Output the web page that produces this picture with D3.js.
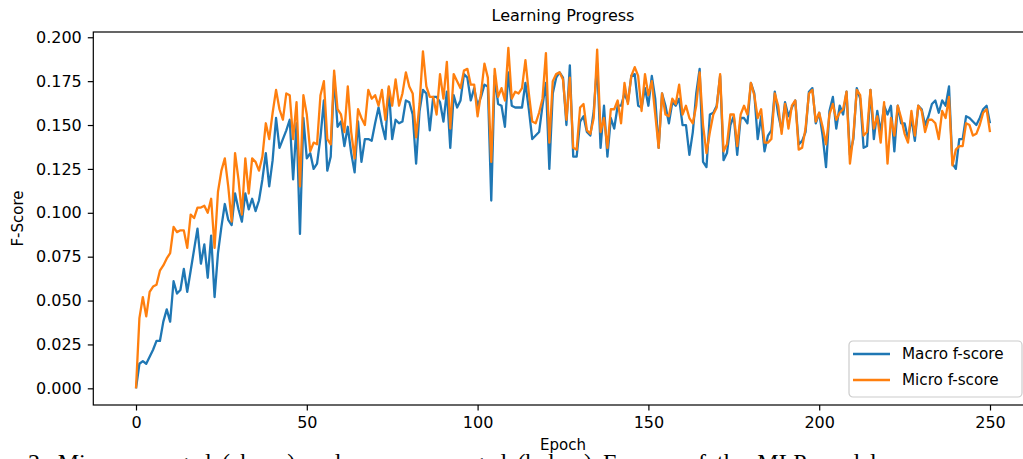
<!DOCTYPE html>
<html>
<head>
<meta charset="utf-8">
<script src="https://cdn.jsdelivr.net/npm/d3@7"></script>
<style>
  body { margin: 0; background: #fff; overflow: hidden; }
  text { font-family: "DejaVu Sans", sans-serif; fill: #000; }
</style>
</head>
<body>
<div id="chart"></div>
<script>
// values, one per epoch (0..250)
const macroF = [
  0, 0.014, 0.0155, 0.014, 0.018, 0.022, 0.027, 0.027, 0.038, 0.045,
  0.038, 0.061, 0.054, 0.056, 0.068, 0.055, 0.067, 0.079, 0.091, 0.071,
  0.082, 0.063, 0.087, 0.052, 0.077, 0.092, 0.105, 0.096, 0.093, 0.111,
  0.102, 0.095, 0.111, 0.102, 0.108, 0.101, 0.107, 0.119, 0.134, 0.115,
  0.130, 0.154, 0.137, 0.142, 0.147, 0.153, 0.119, 0.151, 0.088, 0.154,
  0.131, 0.134, 0.125, 0.128, 0.143, 0.164, 0.124, 0.132, 0.178, 0.149,
  0.152, 0.138, 0.149, 0.134, 0.123, 0.152, 0.129, 0.142, 0.142, 0.141,
  0.151, 0.160, 0.150, 0.142, 0.171, 0.142, 0.153, 0.151, 0.152, 0.164,
  0.163, 0.156, 0.128, 0.158, 0.170, 0.168, 0.147, 0.166, 0.166, 0.163,
  0.152, 0.169, 0.137, 0.167, 0.160, 0.164, 0.179, 0.177, 0.164, 0.171,
  0.161, 0.166, 0.173, 0.172, 0.107, 0.178, 0.162, 0.161, 0.149, 0.180,
  0.161, 0.160, 0.160, 0.160, 0.174, 0.159, 0.142, 0.144, 0.146, 0.161,
  0.174, 0.125, 0.168, 0.177, 0.180, 0.177, 0.150, 0.184, 0.132, 0.132,
  0.152, 0.155, 0.146, 0.144, 0.158, 0.185, 0.137, 0.161, 0.132, 0.154,
  0.148, 0.161, 0.161, 0.168, 0.163, 0.178, 0.179, 0.161, 0.160, 0.171,
  0.161, 0.178, 0.165, 0.137, 0.168, 0.161, 0.151, 0.163, 0.161, 0.165,
  0.150, 0.150, 0.133, 0.146, 0.168, 0.182, 0.129, 0.126, 0.156, 0.157,
  0.161, 0.178, 0.130, 0.134, 0.150, 0.155, 0.133, 0.154, 0.154, 0.151,
  0.174, 0.168, 0.142, 0.155, 0.135, 0.144, 0.147, 0.169, 0.156, 0.147,
  0.163, 0.155, 0.160, 0.164, 0.139, 0.141, 0.146, 0.169, 0.171, 0.151,
  0.157, 0.144, 0.126, 0.158, 0.166, 0.148, 0.161, 0.156, 0.169, 0.133,
  0.142, 0.171, 0.165, 0.137, 0.138, 0.170, 0.142, 0.158, 0.146, 0.161,
  0.156, 0.161, 0.135, 0.161, 0.151, 0.151, 0.142, 0.154, 0.141, 0.161,
  0.159, 0.150, 0.155, 0.162, 0.164, 0.157, 0.164, 0.161, 0.172, 0.128,
  0.125, 0.142, 0.142, 0.155, 0.154, 0.152, 0.150, 0.154, 0.159, 0.161,
  0.151
];

const microF = [
  0, 0.040, 0.052, 0.041, 0.055, 0.058, 0.059, 0.067, 0.070, 0.074,
  0.077, 0.092, 0.089, 0.090, 0.090, 0.080, 0.099, 0.097, 0.103, 0.103,
  0.104, 0.100, 0.108, 0.080, 0.112, 0.124, 0.131, 0.115, 0.095, 0.134,
  0.119, 0.099, 0.131, 0.111, 0.131, 0.129, 0.124, 0.132, 0.151, 0.142,
  0.157, 0.170, 0.159, 0.153, 0.168, 0.167, 0.142, 0.163, 0.115, 0.167,
  0.156, 0.135, 0.140, 0.139, 0.167, 0.175, 0.142, 0.139, 0.181, 0.159,
  0.156, 0.146, 0.172, 0.146, 0.131, 0.159, 0.154, 0.150, 0.170, 0.165,
  0.167, 0.161, 0.170, 0.153, 0.172, 0.161, 0.176, 0.161, 0.168, 0.180,
  0.172, 0.168, 0.143, 0.162, 0.192, 0.172, 0.166, 0.166, 0.156, 0.179,
  0.165, 0.186, 0.148, 0.179, 0.175, 0.171, 0.181, 0.182, 0.173, 0.173,
  0.155, 0.168, 0.185, 0.177, 0.129, 0.182, 0.166, 0.171, 0.164, 0.194,
  0.165, 0.169, 0.168, 0.171, 0.187, 0.168, 0.152, 0.151, 0.157, 0.165,
  0.191, 0.140, 0.175, 0.179, 0.180, 0.176, 0.153, 0.177, 0.137, 0.136,
  0.160, 0.162, 0.147, 0.145, 0.154, 0.193, 0.146, 0.154, 0.137, 0.159,
  0.159, 0.164, 0.151, 0.174, 0.162, 0.178, 0.183, 0.178, 0.158, 0.179,
  0.167, 0.175, 0.156, 0.137, 0.168, 0.156, 0.155, 0.165, 0.162, 0.173,
  0.156, 0.161, 0.154, 0.151, 0.161, 0.180, 0.150, 0.134, 0.146, 0.156,
  0.160, 0.179, 0.135, 0.139, 0.156, 0.156, 0.138, 0.156, 0.161, 0.156,
  0.174, 0.167, 0.154, 0.159, 0.140, 0.140, 0.142, 0.168, 0.161, 0.145,
  0.162, 0.148, 0.161, 0.164, 0.136, 0.137, 0.148, 0.168, 0.170, 0.152,
  0.157, 0.149, 0.139, 0.156, 0.162, 0.153, 0.157, 0.159, 0.169, 0.128,
  0.144, 0.170, 0.167, 0.144, 0.146, 0.170, 0.148, 0.155, 0.140, 0.163,
  0.128, 0.154, 0.144, 0.161, 0.154, 0.145, 0.140, 0.158, 0.144, 0.161,
  0.158, 0.146, 0.153, 0.153, 0.151, 0.142, 0.158, 0.154, 0.166, 0.127,
  0.136, 0.138, 0.138, 0.151, 0.150, 0.144, 0.145, 0.150, 0.157, 0.159,
  0.146
];

const seriesNames = ['Macro f-score', 'Micro f-score'];
const xTicks = [0, 50, 100, 150, 200, 250];
const yTicks = [0, 0.025, 0.05, 0.075, 0.1, 0.125, 0.15, 0.175, 0.2];

const colors = ['#1f77b4', '#ff7f0e'];
const W = 1023, H = 459;
// axes box (right edge runs past the cropped picture)
const box = {left: 93.3, right: 1032.7, top: 32, bottom: 405};

const svg = d3.select('#chart').append('svg')
  .attr('width', W)
  .attr('height', H);

const x = d3.scaleLinear().domain([-12.5, 262.5]).range([box.left, box.right]);
const y = d3.scaleLinear().domain([-0.0095, 0.203]).range([box.bottom, box.top]);

// lines
const line = d3.line()
  .x((d, i) => x(i))
  .y(d => y(d));

[macroF, microF].forEach((s, k) => {
  svg.append('path')
    .datum(s)
    .attr('fill', 'none')
    .attr('stroke', colors[k])
    .attr('stroke-width', 2.3)
    .attr('stroke-linejoin', 'round')
    .attr('d', line);
});

// axes
const xAxis = d3.axisBottom(x).tickValues(xTicks).tickSize(5.5).tickPadding(6)
  .tickFormat(d3.format('d'));
const yAxis = d3.axisLeft(y).tickValues(yTicks).tickSize(5.5).tickPadding(6)
  .tickFormat(d3.format('.3f'));

const xg = svg.append('g').attr('transform', `translate(0,${box.bottom})`).call(xAxis);
const yg = svg.append('g').attr('transform', `translate(${box.left},0)`).call(yAxis);
[xg, yg].forEach(g => {
  g.select('.domain').remove();
  g.selectAll('.tick line').attr('stroke', '#000').attr('stroke-width', 1.2);
  g.selectAll('.tick text').attr('font-size', 16).attr('fill', '#000')
    .style('font-family', '"DejaVu Sans", sans-serif');
});

// spines
svg.append('rect')
  .attr('x', box.left).attr('y', box.top)
  .attr('width', box.right - box.left).attr('height', box.bottom - box.top)
  .attr('fill', 'none').attr('stroke', '#000').attr('stroke-width', 1.2);

// title and axis labels
svg.append('text')
  .attr('x', (box.left + box.right) / 2).attr('y', 21)
  .attr('text-anchor', 'middle').attr('font-size', 16)
  .text('Learning Progress');

svg.append('text')
  .attr('x', (box.left + box.right) / 2).attr('y', 450)
  .attr('text-anchor', 'middle').attr('font-size', 15)
  .text('Epoch');

svg.append('text')
  .attr('transform', `translate(23,${(box.top + box.bottom) / 2}) rotate(-90)`)
  .attr('text-anchor', 'middle').attr('font-size', 15)
  .text('F-Score');

// legend
const lg = svg.append('g').attr('transform', 'translate(849,341)');
lg.append('rect')
  .attr('width', 173).attr('height', 56).attr('rx', 4)
  .attr('fill', '#fff').attr('fill-opacity', 0.8)
  .attr('stroke', '#ccc').attr('stroke-width', 1.2);
seriesNames.forEach((n, k) => {
  const row = lg.append('g').attr('transform', `translate(0,${13 + k * 26})`);
  row.append('line')
    .attr('x1', 4).attr('x2', 41)
    .attr('stroke', colors[k]).attr('stroke-width', 2.3);
  row.append('text')
    .attr('x', 53).attr('dy', '0.36em').attr('font-size', 15.2)
    .text(n);
});

// caption of the page, cut off by the crop
svg.append('text')
  .attr('x', 28).attr('y', 470)
  .attr('font-size', 24)
  .attr('word-spacing', 5)
  .style('font-family', '"Liberation Serif", serif')
  .text('2: Micro-averaged (above) and macro-averaged (below) F-score of the MLP model');
</script>
</body>
</html>
